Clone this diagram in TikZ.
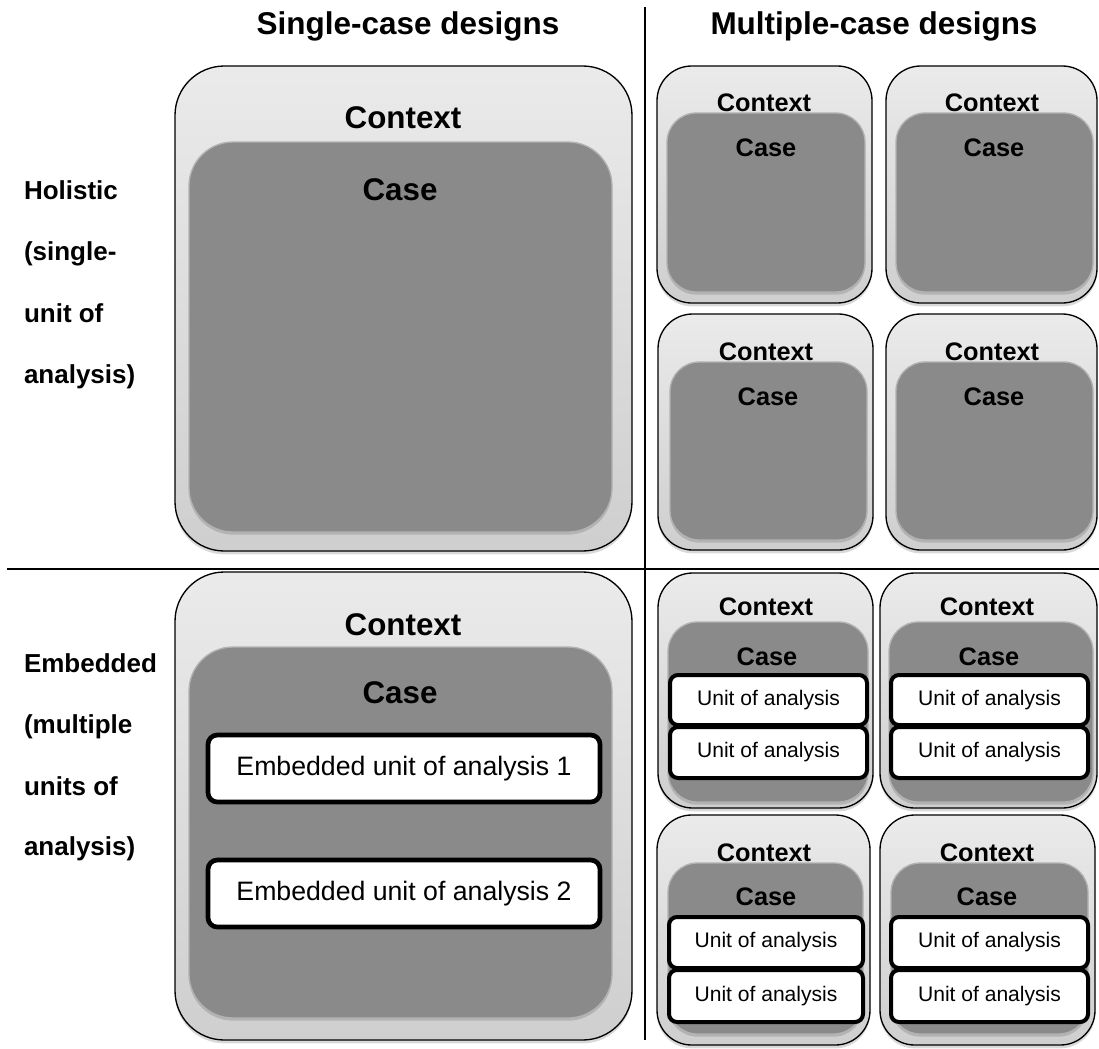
\documentclass[tikz,border=0pt]{standalone}
\usepackage{fontspec}
\setmainfont{Liberation Sans}
\usepackage{tikz}
\usetikzlibrary{positioning,fit,shadows}

\begin{document}
\begin{tikzpicture}[x=0.75pt, y=-0.75pt, every node/.style={inner sep=0pt, outer sep=0pt},
  head/.style={font=\fontsize{23.6}{28}\selectfont\bfseries},
  rowlab/.style={anchor=base west, font=\fontsize{19.5}{24}\selectfont\bfseries},
  ctx/.style={draw, line width=1pt, rounded corners=37pt, top color=black!8, bottom color=black!19,
    drop shadow={opacity=0.3, shadow xshift=0pt, shadow yshift=-2.5pt}},
  sctx/.style={ctx, rounded corners=26pt},
  casebox/.style={draw=black!30, line width=1pt, fill=black!46, rounded corners=33pt,
    drop shadow={opacity=0.35, shadow xshift=0pt, shadow yshift=-2pt}},
  scase/.style={casebox, rounded corners=22pt},
  bigtxt/.style={font=\fontsize{23.5}{28}\selectfont\bfseries},
  smalltxt/.style={font=\fontsize{19}{23}\selectfont\bfseries},
  unitbox/.style={draw, line width=3.5pt, fill=white, rounded corners=7pt},
  sunit/.style={unitbox, line width=3pt, rounded corners=6pt},
  unittxt/.style={font=\fontsize{20}{24}\selectfont},
  sunittxt/.style={font=\fontsize{15.8}{19}\selectfont},
  divider/.style={line width=1.2pt}]
\useasboundingbox (0,0) rectangle (1099,1049);

% headings and dividing lines
\node[head, anchor=base] (hsingle) at (408,35) {Single-case designs};
\node[head, anchor=base] (hmulti) at (874,35) {Multiple-case designs};
\coordinate (vtop) at (645,7);
\coordinate (vbot) at (645,1040);
\coordinate (hleft) at (7,569);
\coordinate (hright) at (1099,569);
\draw[divider] (vtop) -- (vbot);
\draw[divider] (hleft) -- (hright);

% row labels
\node[rowlab] (hol1) at (24,199) {Holistic};
\node[rowlab] (hol2) at (24,260) {(single-};
\node[rowlab] (hol3) at (24,322) {unit of};
\node[rowlab] (hol4) at (24,383) {analysis)};
\node[rowlab] (emb1) at (24,672) {Embedded};
\node[rowlab] (emb2) at (24,733) {(multiple};
\node[rowlab] (emb3) at (24,795) {units of};
\node[rowlab] (emb4) at (24,855) {analysis)};

% holistic, single case
\node[ctx, fit={(175,66) (632,551)}] (ctxA) {};
\node[casebox, fit={(189,142) (612,532)}] (caseA) {};
\node[bigtxt] (ctxAt) at (403,118) {Context};
\node[bigtxt] (caseAt) at (400,190) {Case};

% holistic, multiple cases
\node[sctx, fit={(657,66) (872,303)}] (ctxB) {};
\node[scase, fit={(667,113) (865,292)}] (caseB) {};
\node[smalltxt] (ctxBt) at (764,103) {Context};
\node[smalltxt] (caseBt) at (766,148) {Case};
\node[sctx, fit={(886,66) (1097,303)}] (ctxC) {};
\node[scase, fit={(896,113) (1093,292)}] (caseC) {};
\node[smalltxt] (ctxCt) at (992,103) {Context};
\node[smalltxt] (caseCt) at (994,148) {Case};
\node[sctx, fit={(658,314) (873,550)}] (ctxD) {};
\node[scase, fit={(670,362) (867,540)}] (caseD) {};
\node[smalltxt] (ctxDt) at (766,352) {Context};
\node[smalltxt] (caseDt) at (768,397) {Case};
\node[sctx, fit={(886,314) (1097,550)}] (ctxE) {};
\node[scase, fit={(896,362) (1093,540)}] (caseE) {};
\node[smalltxt] (ctxEt) at (992,352) {Context};
\node[smalltxt] (caseEt) at (994,397) {Case};

% embedded, single case
\node[ctx, fit={(175,572) (632,1040)}] (ctxF) {};
\node[casebox, fit={(189,647) (612,1018)}] (caseF) {};
\node[bigtxt] (ctxFt) at (403,625) {Context};
\node[bigtxt] (caseFt) at (400,693) {Case};
\node[unitbox, fit={(208,735) (600,802)}] (unitF1) {};
\node[unitbox, fit={(208,860) (600,927)}] (unitF2) {};
\node[unittxt] (unitF1t) at (unitF1) {Embedded unit of analysis 1};
\node[unittxt] (unitF2t) at (unitF2) {Embedded unit of analysis 2};

% embedded, multiple cases
\node[sctx, fit={(658,573) (873,808)}] (ctxG) {};
\node[scase, fit={(668,622) (868,802)}] (caseG) {};
\node[smalltxt] (ctxGt) at (766,607) {Context};
\node[smalltxt] (caseGt) at (767,657) {Case};
\node[sunit, fit={(670,675) (867,725)}] (unitG1) {};
\node[sunit, fit={(670,727) (867,778)}] (unitG2) {};
\node[sunittxt] (unitG1t) at (unitG1) {Unit of analysis};
\node[sunittxt] (unitG2t) at (unitG2) {Unit of analysis};
\node[sctx, fit={(880,573) (1097,808)}] (ctxH) {};
\node[scase, fit={(889,622) (1093,802)}] (caseH) {};
\node[smalltxt] (ctxHt) at (987,607) {Context};
\node[smalltxt] (caseHt) at (989,657) {Case};
\node[sunit, fit={(891,675) (1088,725)}] (unitH1) {};
\node[sunit, fit={(891,727) (1088,778)}] (unitH2) {};
\node[sunittxt] (unitH1t) at (unitH1) {Unit of analysis};
\node[sunittxt] (unitH2t) at (unitH2) {Unit of analysis};
\node[sctx, fit={(657,815) (870,1045)}] (ctxI) {};
\node[scase, fit={(668,863) (863,1034)}] (caseI) {};
\node[smalltxt] (ctxIt) at (764,853) {Context};
\node[smalltxt] (caseIt) at (766,897) {Case};
\node[sunit, fit={(669,917) (863,968)}] (unitI1) {};
\node[sunit, fit={(669,970) (863,1022)}] (unitI2) {};
\node[sunittxt] (unitI1t) at (unitI1) {Unit of analysis};
\node[sunittxt] (unitI2t) at (unitI2) {Unit of analysis};
\node[sctx, fit={(880,815) (1095,1045)}] (ctxJ) {};
\node[scase, fit={(891,863) (1088,1034)}] (caseJ) {};
\node[smalltxt] (ctxJt) at (987,853) {Context};
\node[smalltxt] (caseJt) at (987,897) {Case};
\node[sunit, fit={(891,917) (1088,968)}] (unitJ1) {};
\node[sunit, fit={(891,970) (1088,1022)}] (unitJ2) {};
\node[sunittxt] (unitJ1t) at (unitJ1) {Unit of analysis};
\node[sunittxt] (unitJ2t) at (unitJ2) {Unit of analysis};
\end{tikzpicture}
\end{document}
